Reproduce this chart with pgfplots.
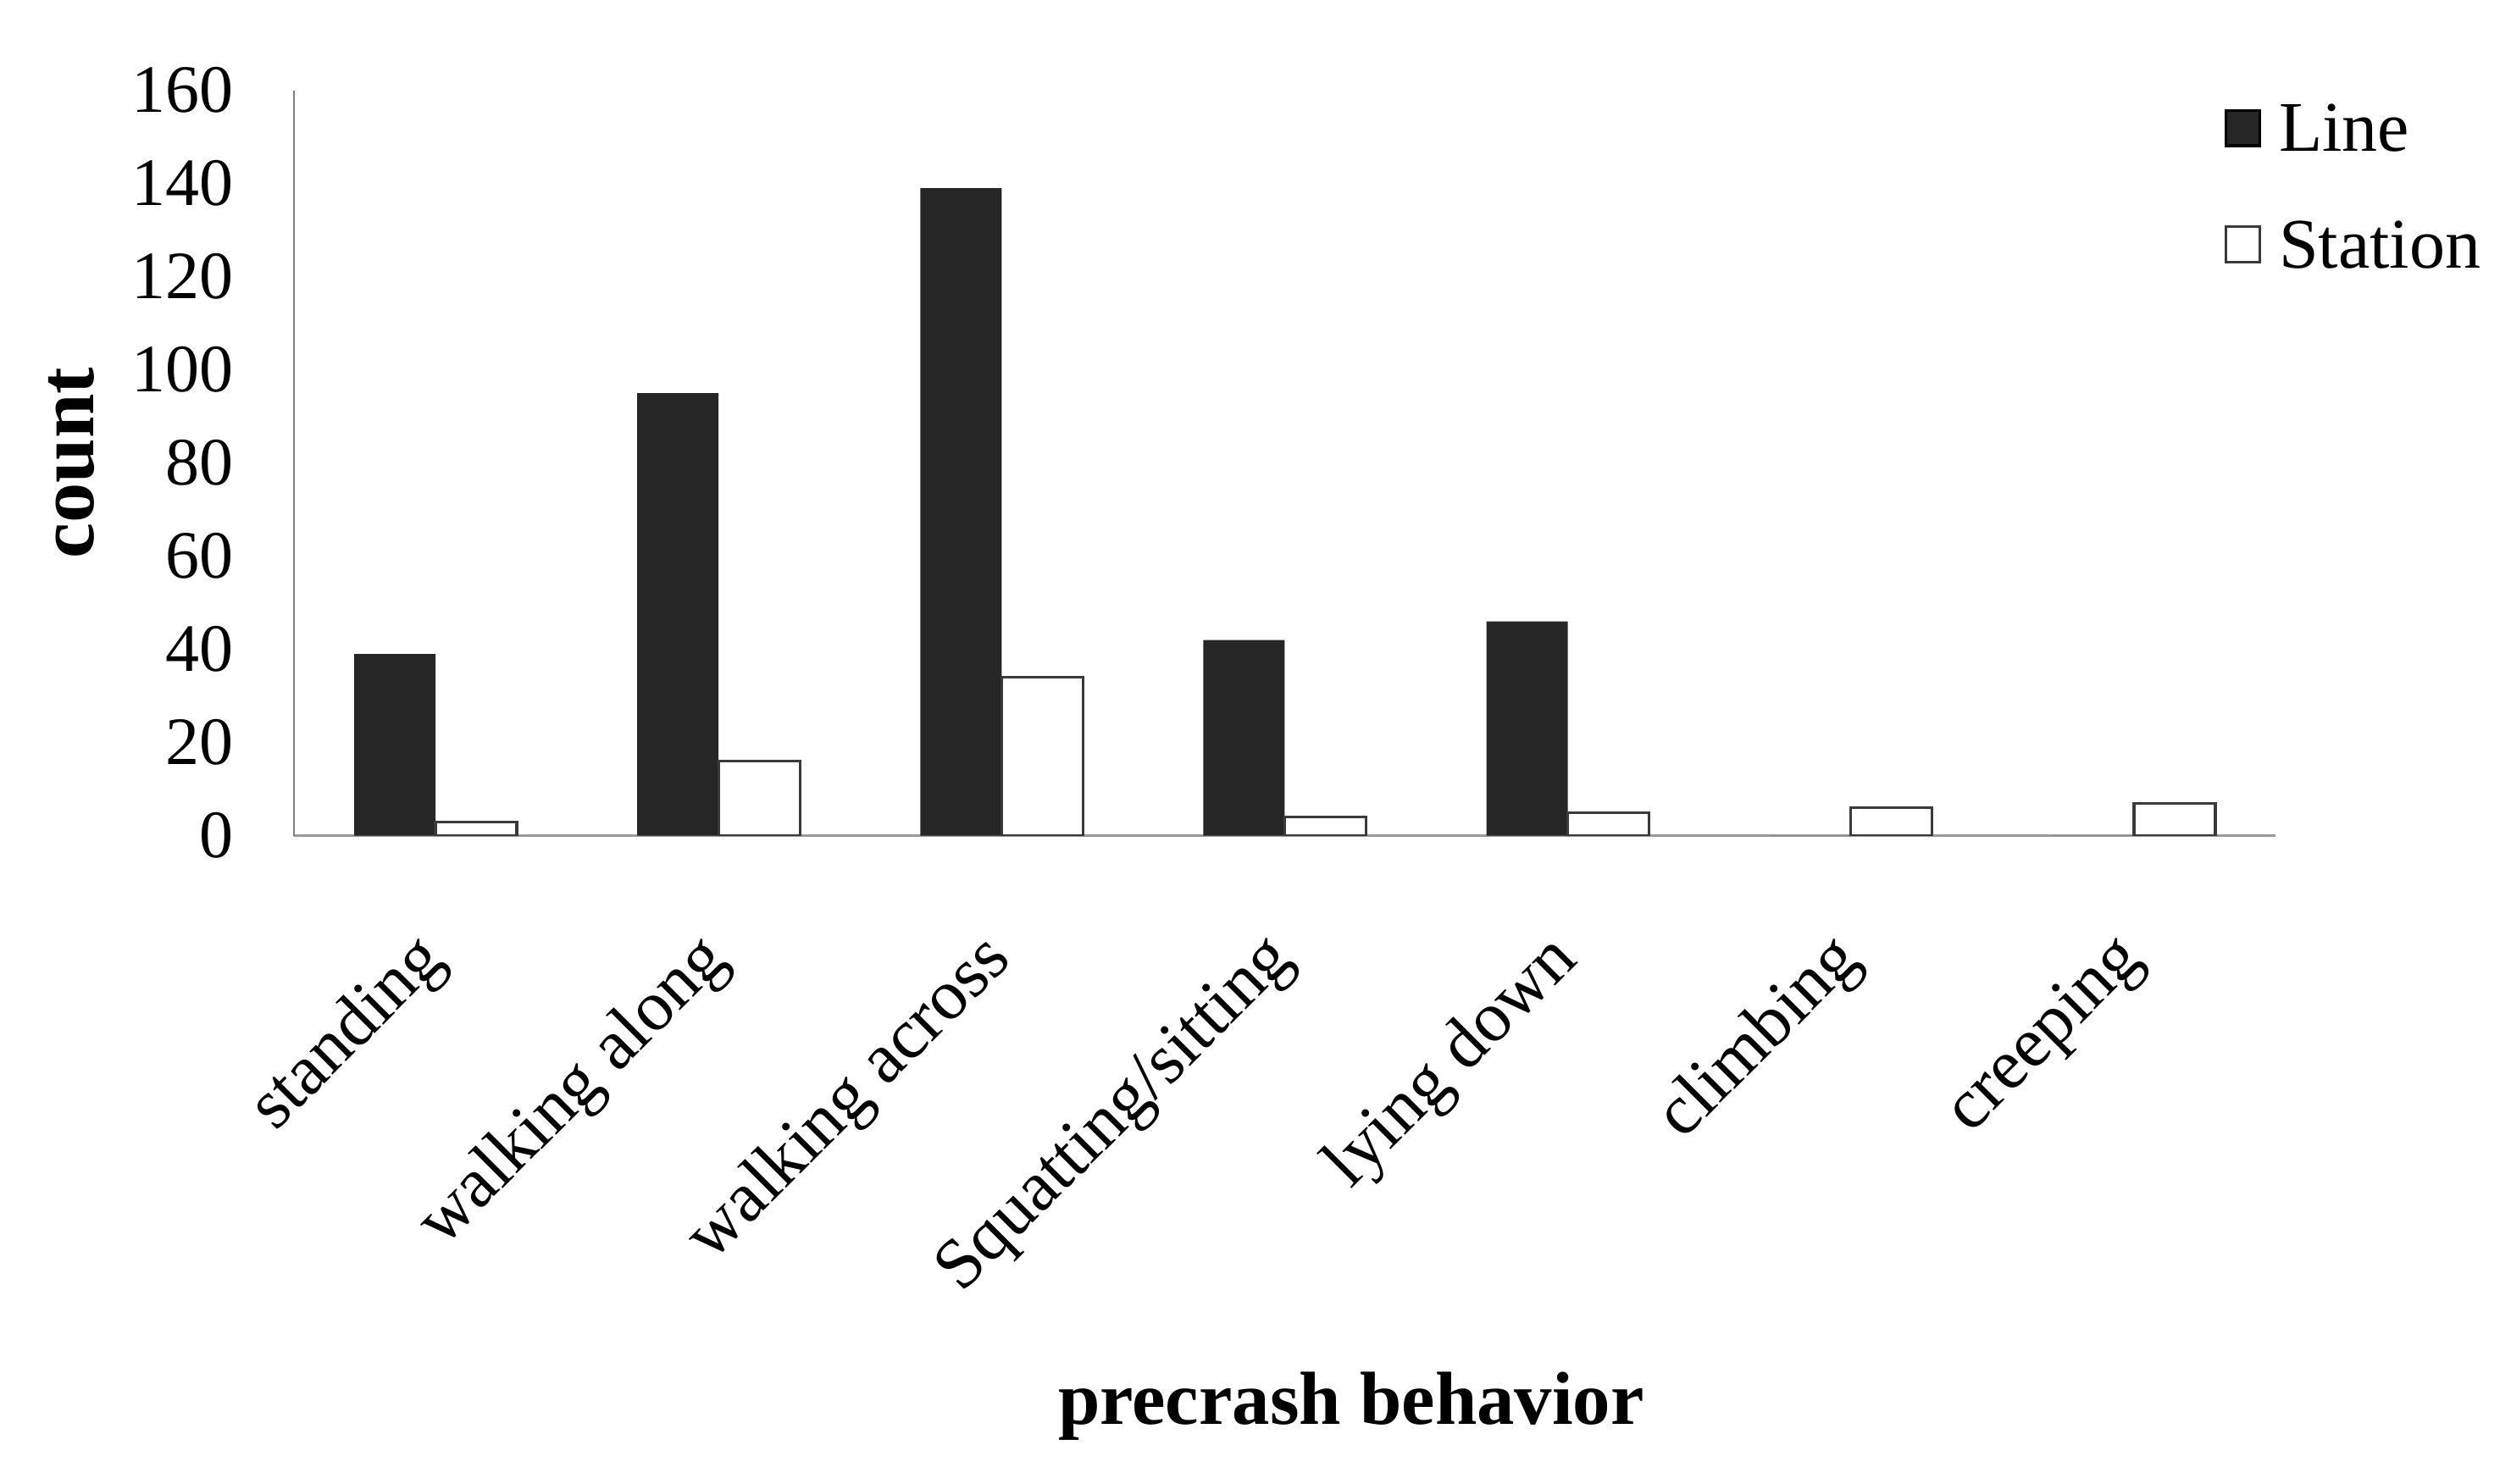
\documentclass[border=0pt]{standalone}
\usepackage{fontspec}
\setmainfont{Liberation Serif}
\usepackage{pgfplots}
\usepackage{pgfplotstable}
\pgfplotsset{compat=1.18}
\definecolor{barblack}{HTML}{262626}
\definecolor{axisgray}{HTML}{9A9A9A}
\definecolor{yaxisgray}{HTML}{808080}
\definecolor{outline}{HTML}{3A3A3A}
\pgfplotstableread{
x line station
0 39 3
1 95 16
2 139 34
3 42 4
4 46 5
5 0 6
6 0 7
}\datatable
\begin{document}
\begin{tikzpicture}
\begin{axis}[
  name=ax,
  at={(0,0)}, anchor=south west,
  scale only axis,
  width=292.4pt, height=110pt,
  ybar=0pt, bar width=12pt,
  xmin=-0.5, xmax=6.5, ymin=0, ymax=160,
  xtick={0,...,6},
  xticklabels={standing,walking along,walking across,Squatting/sitting,lying down,climbing,creeping},
  ytick={0,20,...,160},
  major tick length=0pt,
  tick style={draw=none},
  axis x line*=bottom, axis y line*=left,
  x axis line style={-, draw=axisgray, line width=0.45pt},
  y axis line style={-, draw=yaxisgray, line width=0.3pt},
  /pgf/number format/assume math mode=true,
  yticklabel style={anchor=east, inner sep=0pt, xshift=-8.75pt, font=\fontsize{10}{12}\selectfont},
  xticklabel style={inner sep=0pt, anchor=east, yshift=-16.7pt, rotate=45, font=\fontsize{10.5}{12}\selectfont},
  xlabel={precrash behavior}, ylabel={count},
  every axis x label/.style={at={(axis description cs:0.5336,0)}, anchor=base, yshift=-86.8pt, font=\fontsize{11.1}{13}\selectfont\bfseries},
  every axis y label/.style={at={(axis description cs:0,0.5)}, xshift=-29.6pt, rotate=90, anchor=base, font=\fontsize{11.8}{14}\selectfont\bfseries},
  legend style={draw=none, fill=none, at={(0.9744,1)}, anchor=north west, yshift=-2.08pt,
    inner sep=0pt, outer sep=0pt, row sep=10.24pt, column sep=2.6pt,
    font=\fontsize{10.5}{12}\selectfont, nodes={inner sep=0pt, text depth=0pt}},
  legend cell align=left,
  legend image code/.code={\draw[#1] (0pt,-2.6pt) rectangle (5pt,2.6pt);},
]
\addplot[fill=barblack, draw=none] table[x=x, y=line]{\datatable};
\addplot[fill=white, draw=outline, line width=0.4pt] table[x=x, y=station]{\datatable};
\legend{Line, Station}
\end{axis}
\pgfresetboundingbox
\path[use as bounding box] ([shift={(-43.375pt,-95.66pt)}]ax.south west) rectangle ([shift={(34.75pt,13.34pt)}]ax.north east);
\end{tikzpicture}
\end{document}
